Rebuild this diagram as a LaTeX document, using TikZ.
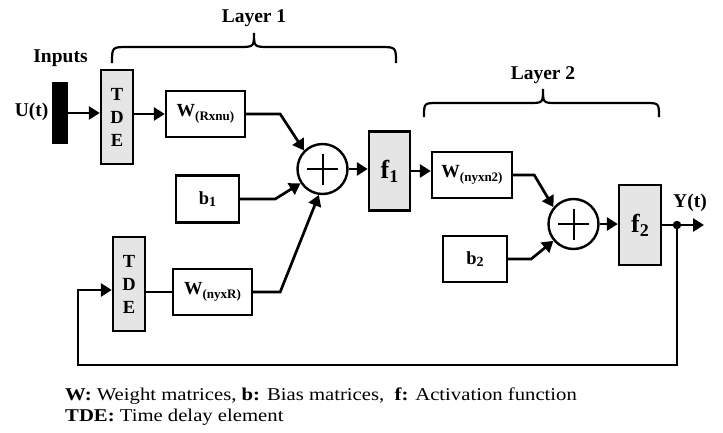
\documentclass[tikz,border=0pt]{standalone}
\usepackage{fontspec}
\setmainfont{Liberation Serif}
\newfontfamily\stretchfont[FakeStretch=1.15]{Liberation Serif}
\usetikzlibrary{arrows.meta}
\newcommand\Wlab[1]{W\raisebox{-0.45ex}{\fontsize{13}{13}\selectfont(#1)}}
\newcommand\blab[1]{b\raisebox{-0.3ex}{\fontsize{14}{14}\selectfont #1}}
\newcommand\flab[1]{{\fontsize{26}{26}\selectfont f\raisebox{-0.35ex}{\fontsize{18}{18}\selectfont #1}}}
\begin{document}
\begin{tikzpicture}[x=1pt,y=-1pt,
  box/.style={draw, line width=2.4pt, fill=white, inner sep=0pt,
    font=\fontsize{18.5}{23}\selectfont\bfseries, align=center},
  gbox/.style={box, fill=black!10},
  sumnode/.style={draw, circle, line width=2.4pt, minimum size=50pt, inner sep=0pt,
    path picture={\draw[line width=2pt]
      ([xshift=-15.5pt]path picture bounding box.center) -- ([xshift=15.5pt]path picture bounding box.center)
      ([yshift=-15.5pt]path picture bounding box.center) -- ([yshift=15.5pt]path picture bounding box.center);}},
  con/.style={line width=2.7pt},
  arr/.style={con, -{Triangle[length=11pt,width=13pt]}},
  lab/.style={font=\fontsize{19.5}{23}\selectfont\bfseries},
  brace/.style={line width=2.2pt},
  legend/.style={anchor=base west, inner sep=0pt, font=\fontsize{18}{20}\selectfont\stretchfont}]
\useasboundingbox (0,0) rectangle (723,432);

% nodes
\node[fill=black, minimum width=16pt, minimum height=62pt, inner sep=0pt] (bar) at (60,113) {};
\node[lab, anchor=east] (u) at (52,112) {U(t)};
\node[lab] (inp) at (60.5,58) {Inputs};
\node[gbox, minimum width=32pt, minimum height=94pt] (tde1) at (117,117) {T\\D\\E};
\node[box, minimum width=79pt, minimum height=46pt] (w1) at (205.5,114) {\Wlab{Rxnu}};
\node[box, minimum width=63pt, minimum height=47pt] (b1) at (207.5,199) {\blab{1}};
\node[gbox, minimum width=32pt, minimum height=94pt] (tde2) at (129,284) {T\\D\\E};
\node[box, minimum width=79pt, minimum height=46pt] (w2) at (212.5,292) {\Wlab{nyxR}};
\node[sumnode] (s1) at (322.5,169) {};
\node[gbox, minimum width=41pt, minimum height=79pt] (f1) at (389.5,171) {\flab{1}};
\node[box, minimum width=80pt, minimum height=46pt] (w3) at (472,175) {\Wlab{nyxn2}};
\node[box, minimum width=64pt, minimum height=46pt] (b2) at (475,259) {\blab{2}};
\node[sumnode] (s2) at (573.5,224) {};
\node[gbox, minimum width=42pt, minimum height=80pt] (f2) at (640,225) {\flab{2}};
\node[circle, fill=black, inner sep=0pt, minimum size=8.5pt] (dot) at (677,225) {};
\coordinate (out) at (704,225);
\node[lab] (y) at (690,203) {Y(t)};
\coordinate (fb1) at (677,365);
\coordinate (fb2) at (78,365);

\node[lab] (l1) at (254,18) {Layer 1};
\node[lab] (l2) at (543,75) {Layer 2};

% braces
\draw[brace] (112,63) .. controls (112,47) .. (128,47) -- (238,47)
  .. controls (254,47) .. (254,33) .. controls (254,47) .. (270,47) -- (380,47)
  .. controls (396,47) .. (396,63);
\draw[brace] (424,117) .. controls (424,103) .. (438,103) -- (529,103)
  .. controls (543,103) .. (543,89) .. controls (543,103) .. (557,103) -- (645,103)
  .. controls (659,103) .. (659,117);

% connectors
\draw[arr] (bar.east) -- (bar.east -| tde1.west);
\draw[arr] (tde1.east |- w1.west) -- (w1.west);
\draw[arr] (w1.east) -- ++(34,0) -- (s1.135);
\draw[arr] (b1.east) -- ++(35,0) -- (s1.213);
\draw[con] (tde2.east |- w2.west) -- (w2.west);
\draw[arr] (w2.east) -- ++(27,0) -- (s1.262);
\draw[arr] (s1.east) -- (s1.east -| f1.west);
\draw[arr] (f1.east) -- (f1.east -| w3.west);
\draw[arr] (w3.east) -- ++(21,0) -- (s2.140);
\draw[arr] (b2.east) -- ++(23,0) -- (s2.220);
\draw[arr] (s2.east) -- (s2.east -| f2.west);
\draw[con] (f2.east) -- (dot);
\draw[arr] (dot) -- (out);
\draw[arr] (dot) -- (fb1) -- (fb2) |- ([yshift=-6pt]tde2.west);

% legend
\node[legend] (lg1) at (65,400) {\textbf{W:} Weight matrices, \textbf{b:} Bias matrices,\ \ \textbf{f:} Activation function};
\node[legend] (lg2) at (65,421) {\textbf{TDE:} Time delay element};
\end{tikzpicture}
\end{document}
